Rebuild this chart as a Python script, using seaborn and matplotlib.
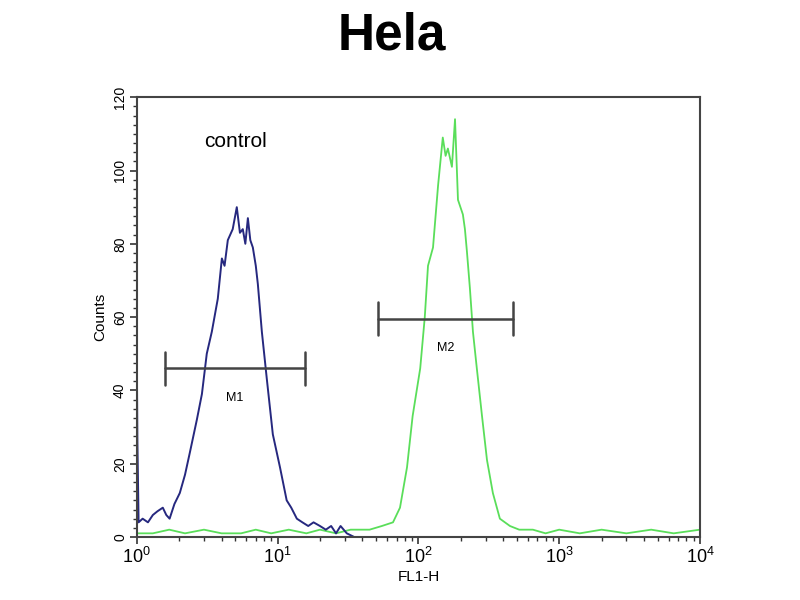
import numpy as np
import pandas as pd
import matplotlib
matplotlib.use("Agg")
import matplotlib.pyplot as plt
import matplotlib.ticker as mticker
import seaborn as sns

# control (blue) histogram
ctrl_x = [1.0, 1.0, 1.01, 1.03, 1.1, 1.2, 1.3, 1.4, 1.53, 1.62, 1.71, 1.85, 2.02, 2.2, 2.38,
          2.67, 2.9, 3.14, 3.41, 3.76, 4.02, 4.2, 4.43, 4.8, 5.13, 5.4, 5.66, 5.9, 6.15,
          6.4, 6.67, 7.0, 7.24, 7.73, 8.39, 9.25, 10.4, 11.6, 12.5, 13.7, 15, 16.5, 18,
          20, 22, 24, 26, 28, 31, 35, 40, 100, 1000, 10000]
ctrl_y = [0, 49, 26, 4, 5, 4, 6, 7, 8, 6, 5, 9, 12, 17, 23,
          32, 39, 50, 56, 65, 76, 74, 81, 84, 90, 83, 84, 80, 87,
          81, 79, 74, 69, 56, 43, 28, 19, 10, 8, 5, 4, 3, 4,
          3, 2, 3, 1, 3, 1, 0, 0, 0, 0, 0]

# sample (green) histogram
samp_x = [1.0, 1.3, 1.7, 2.2, 3, 4, 5.5, 7, 9, 12, 16, 20, 26, 33, 40, 45, 55, 66, 74,
          83, 91, 103, 111, 117, 127, 138, 149, 156, 162, 173, 182, 191, 207, 214, 221,
          232, 244, 260, 283, 307, 338, 379, 447, 520, 650, 800, 1000, 1400, 2000, 3000,
          4500, 6500, 10000]
samp_y = [1, 1, 2, 1, 2, 1, 1, 2, 1, 2, 1, 2, 1, 2, 2, 2, 3, 4, 8,
          19, 33, 46, 60, 74, 79, 96, 109, 104, 106, 101, 114, 92, 88, 84, 78,
          68, 56, 46, 33, 21, 12, 5, 3, 2, 2, 1, 2, 1, 2, 1,
          2, 1, 2]

# gate markers: name, left, right, height
gate_names = ["M1", "M2"]
gate_lo = [1.58, 51.6]
gate_hi = [15.6, 469]
gate_y = [46, 59.5]

sns.set_style("white")
plt.rcParams['font.family'] = ['Liberation Sans', 'DejaVu Sans']

fig = plt.figure(figsize=(8, 6), dpi=100)
ax = fig.add_axes([0.171, 0.105, 0.704, 0.733])

ctrl = pd.DataFrame({"x": ctrl_x, "y": ctrl_y})
samp = pd.DataFrame({"x": samp_x, "y": samp_y})
sns.lineplot(data=samp, x="x", y="y", color="#5ade5a", lw=1.3, sort=False, estimator=None, ax=ax)
sns.lineplot(data=ctrl, x="x", y="y", color="#26287f", lw=1.4, sort=False, estimator=None, ax=ax)

for name, lo, hi, yy in zip(gate_names, gate_lo, gate_hi, gate_y):
    ax.plot([lo, hi], [yy, yy], color="#444444", lw=1.8)
    ax.plot([lo, lo], [yy - 4.5, yy + 4.5], color="#444444", lw=1.8)
    ax.plot([hi, hi], [yy - 4.5, yy + 4.5], color="#444444", lw=1.8)
    ax.text(np.sqrt(lo * hi), yy - 8, name, ha="center", va="center", fontsize=9, color="black")

ax.text(5.0, 108, "control", ha="center", va="center", fontsize=15, color="black")

ax.set_xscale("log")
ax.set_xlim(1, 10000)
ax.set_ylim(0, 120)
ax.set_yticks([0, 20, 40, 60, 80, 100, 120])
ax.yaxis.set_minor_locator(mticker.MultipleLocator(2.5))
ax.xaxis.set_major_locator(mticker.LogLocator(base=10))
ax.xaxis.set_minor_locator(mticker.LogLocator(base=10, subs=np.arange(2, 10)))
ax.xaxis.set_minor_formatter(mticker.NullFormatter())
ax.tick_params(axis="both", which="both", bottom=True, left=True, top=False, right=False)
ax.tick_params(axis="both", which="major", direction="out", length=5, width=1.2, colors="#333333")
ax.tick_params(axis="both", which="minor", direction="out", length=3, width=1.0, colors="#333333")
ax.tick_params(axis="x", labelsize=13, labelcolor="black", pad=2)
ax.tick_params(axis="y", labelsize=10, labelcolor="black", labelrotation=90, pad=2)
for lab in ax.get_yticklabels():
    lab.set_va("center")

for s in ax.spines.values():
    s.set_color("#444444")
    s.set_linewidth(1.5)

ax.set_xlabel("FL1-H", fontsize=11, color="black", labelpad=2)
ax.set_ylabel("Counts", fontsize=11, color="black", labelpad=4)
fig.suptitle("Hela", x=0.49, y=0.98, fontsize=37, fontweight="bold", color="black")

fig.savefig("out.png", dpi=100)
